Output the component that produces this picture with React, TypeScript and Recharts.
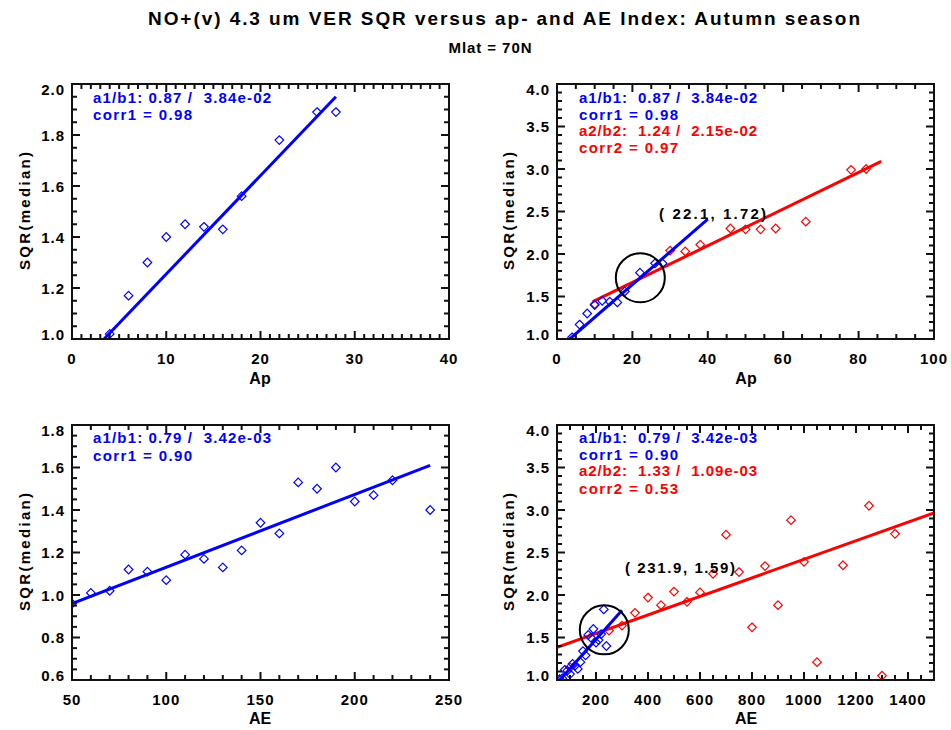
import React from 'react';
import { ScatterChart, Scatter, XAxis, YAxis, ReferenceDot } from 'recharts';

// SQR(median) vs Ap, low-activity fit (blue) and high-activity fit (red)
const apBlueX = [4, 6, 8, 10, 12, 14, 16, 18, 22, 26, 28];
const apBlueY = [1.02, 1.17, 1.3, 1.4, 1.45, 1.44, 1.43, 1.56, 1.78, 1.89, 1.89];
const apRedX = [10, 30, 34, 38, 46, 50, 54, 58, 66, 78, 82];
const apRedY = [1.41, 2.04, 2.03, 2.11, 2.3, 2.29, 2.29, 2.3, 2.38, 2.99, 3.0];

// fit line end points
const apFit1X = [3.4, 28];
const apFit1Y = [1.0, 1.95];
const apFit1LongX = [3.4, 40];
const apFit1LongY = [1.0, 2.41];
const apFit2X = [9.5, 86];
const apFit2Y = [1.44, 3.09];
const apCross = [22.1, 1.72];

// SQR(median) vs AE
const aeBlueX = [50, 60, 70, 80, 90, 100, 110, 120, 130, 140, 150, 160, 170, 180, 190, 200, 210, 220, 230, 240];
const aeBlueY = [0.96, 1.01, 1.02, 1.12, 1.11, 1.07, 1.19, 1.17, 1.13, 1.21, 1.34, 1.29, 1.53, 1.5, 1.6, 1.44, 1.47, 1.54, 1.83, 1.4];
const aeRedX = [100, 250, 300, 350, 400, 450, 500, 550, 600, 650, 700, 750, 800, 850, 900, 950, 1000, 1050, 1150, 1200, 1250, 1300, 1350];
const aeRedY = [1.15, 1.58, 1.64, 1.79, 1.97, 1.88, 2.04, 1.92, 2.03, 2.25, 2.71, 2.27, 1.62, 2.34, 1.88, 2.88, 2.39, 1.21, 2.35, 0.94, 3.05, 1.05, 2.72];

const aeFit1X = [50, 240];
const aeFit1Y = [0.96, 1.61];
const aeFit1LongX = [61, 300];
const aeFit1LongY = [1.0, 1.82];
const aeFit2X = [50, 1500];
const aeFit2Y = [1.385, 2.965];
const aeCross = [231.9, 1.59];

// axis major ticks
const apXMajors = [0, 10, 20, 30, 40];
const apYMajors = [1.0, 1.2, 1.4, 1.6, 1.8, 2.0];
const apWideXMajors = [0, 20, 40, 60, 80, 100];
const wideYMajors = [1.0, 1.5, 2.0, 2.5, 3.0, 3.5, 4.0];
const aeXMajors = [50, 100, 150, 200, 250];
const aeYMajors = [0.6, 0.8, 1.0, 1.2, 1.4, 1.6, 1.8];
const aeWideXMajors = [200, 400, 600, 800, 1000, 1200, 1400];

const BLUE = '#0000ff';
const RED = '#ff0000';
const FONT = '"Liberation Sans", Arial, Helvetica, sans-serif';
const BOX_W = 377;
const BOX_H = 255;
const CH = 320;

const pts = (xs: number[], ys: number[]) => xs.map((x, i) => ({ x, y: ys[i] }));

const makeTicks = (lo: number, hi: number, step: number) => {
  const out: number[] = [];
  const n = Math.round((hi - lo) / step);
  for (let i = 0; i <= n; i++) out.push(+(lo + i * step).toFixed(6));
  return out;
};

const isMajor = (v: number, majors: number[]) => majors.some((m) => Math.abs(m - v) < 1e-6);

const labelStyle = { fontFamily: FONT, fontWeight: 700, fontSize: 15, letterSpacing: 1 } as const;

const XLabel = ({ x, y, payload }: any) => (
  <text x={x} y={y + 19} textAnchor="middle" dominantBaseline="central" fill="#000" style={labelStyle}>
    {String(payload.value)}
  </text>
);

const YLabel = ({ x, y, payload, domain, digits }: any) => {
  const v = payload.value;
  let ly = y;
  if (Math.abs(v - domain[1]) < 1e-6) ly = y + 5;
  if (Math.abs(v - domain[0]) < 1e-6) ly = y - 5;
  return (
    <text x={x - 7} y={ly} textAnchor="end" dominantBaseline="central" fill="#000" style={labelStyle}>
      {v.toFixed(digits)}
    </text>
  );
};

const Diamond = ({ cx, cy, color }: any) => {
  if (cx == null || cy == null) return <g />;
  const r = 4.3;
  return (
    <path
      d={`M${cx},${cy - r}L${cx + r},${cy}L${cx},${cy + r}L${cx - r},${cy}Z`}
      fill="none"
      stroke={color}
      strokeWidth={1.2}
    />
  );
};

type SeriesDef = { data: { x: number; y: number }[]; color: string; fit?: boolean };

type PanelDef = {
  left: number;
  top: number;
  width: number;
  boxLeft: number;
  boxTop: number;
  xDomain: [number, number];
  yDomain: [number, number];
  xMajors: number[];
  yMajors: number[];
  xStep: number;
  yStep: number;
  series: SeriesDef[];
  cross?: number[];
};

function Panel(p: PanelDef) {
  const yAxisW = p.boxLeft - p.left;
  const marginTop = p.boxTop - p.top;
  const marginRight = p.width - yAxisW - BOX_W;
  const xAxisH = CH - marginTop - BOX_H;
  return (
    <div style={{ position: 'absolute', left: p.left, top: p.top }}>
      <ScatterChart width={p.width} height={CH} margin={{ top: marginTop, right: marginRight, bottom: 0, left: 0 }}>
        <XAxis
          type="number"
          dataKey="x"
          domain={p.xDomain}
          ticks={p.xMajors}
          interval={0}
          allowDataOverflow
          height={xAxisH}
          tickSize={0}
          tickMargin={0}
          axisLine={false}
          tickLine={false}
          tick={(t: any) => <XLabel {...t} />}
        />
        <YAxis
          type="number"
          dataKey="y"
          domain={p.yDomain}
          ticks={p.yMajors}
          interval={0}
          allowDataOverflow
          width={yAxisW}
          tickSize={0}
          tickMargin={0}
          axisLine={false}
          tickLine={false}
          tick={(t: any) => <YLabel {...t} domain={p.yDomain} digits={1} />}
        />
        {p.series.map((s, i) =>
          s.fit ? (
            <Scatter
              key={i}
              data={s.data}
              line={{ stroke: s.color, strokeWidth: 3 }}
              shape={() => <g />}
              isAnimationActive={false}
            />
          ) : (
            <Scatter
              key={i}
              data={s.data}
              shape={(sp: any) => <Diamond cx={sp.cx} cy={sp.cy} color={s.color} />}
              isAnimationActive={false}
            />
          )
        )}
        {p.cross && (
          <ReferenceDot x={p.cross[0]} y={p.cross[1]} r={24.5} fill="none" stroke="#000" strokeWidth={2} />
        )}
      </ScatterChart>
    </div>
  );
}

// plot frame with inward ticks on all four sides, matching the axis domains
function Frame({ p }: { p: PanelDef }) {
  const [x0, x1] = p.xDomain;
  const [y0, y1] = p.yDomain;
  const bx = p.boxLeft;
  const by = p.boxTop;
  const marks: React.ReactNode[] = [];
  makeTicks(x0, x1, p.xStep).forEach((v, i) => {
    const len = isMajor(v, p.xMajors) ? 8 : 5;
    const px = bx + ((v - x0) / (x1 - x0)) * BOX_W;
    marks.push(<rect key={`xb${i}`} x={px - 1} y={by + BOX_H - len} width={2} height={len} />);
    marks.push(<rect key={`xt${i}`} x={px - 1} y={by} width={2} height={len} />);
  });
  makeTicks(y0, y1, p.yStep).forEach((v, i) => {
    const len = isMajor(v, p.yMajors) ? 8 : 5;
    const py = by + BOX_H - ((v - y0) / (y1 - y0)) * BOX_H;
    marks.push(<rect key={`yl${i}`} x={bx} y={py - 1} width={len} height={2} />);
    marks.push(<rect key={`yr${i}`} x={bx + BOX_W - len} y={py - 1} width={len} height={2} />);
  });
  return (
    <g>
      <g fill="#111">{marks}</g>
      <rect x={bx} y={by} width={BOX_W} height={BOX_H} fill="none" stroke="#111" strokeWidth={2} />
    </g>
  );
}

const Txt = ({ x, y, len, color = '#000', size = 15, anchor = 'start', rotate = false, children }: any) => (
  <text
    x={x}
    y={y}
    fill={color}
    textAnchor={anchor}
    dominantBaseline="central"
    textLength={len}
    lengthAdjust="spacing"
    xmlSpace="preserve"
    transform={rotate ? `rotate(-90 ${x} ${y})` : undefined}
    style={{ fontFamily: FONT, fontWeight: 700, fontSize: size, whiteSpace: 'pre' }}
  >
    {children}
  </text>
);

const panels: PanelDef[] = [
  {
    left: 0,
    top: 70,
    width: 470,
    boxLeft: 72,
    boxTop: 84,
    xDomain: [0, 40],
    yDomain: [1, 2],
    xMajors: apXMajors,
    yMajors: apYMajors,
    xStep: 1,
    yStep: 0.05,
    series: [
      { data: pts(apFit1X, apFit1Y), color: BLUE, fit: true },
      { data: pts(apBlueX, apBlueY), color: BLUE },
    ],
  },
  {
    left: 480,
    top: 70,
    width: 471,
    boxLeft: 557,
    boxTop: 84,
    xDomain: [0, 100],
    yDomain: [1, 4],
    xMajors: apWideXMajors,
    yMajors: wideYMajors,
    xStep: 5,
    yStep: 0.1,
    series: [
      { data: pts(apFit2X, apFit2Y), color: RED, fit: true },
      { data: pts(apRedX, apRedY), color: RED },
      { data: pts(apFit1LongX, apFit1LongY), color: BLUE, fit: true },
      { data: pts(apBlueX, apBlueY), color: BLUE },
    ],
    cross: apCross,
  },
  {
    left: 0,
    top: 410,
    width: 470,
    boxLeft: 72,
    boxTop: 425,
    xDomain: [50, 250],
    yDomain: [0.6, 1.8],
    xMajors: aeXMajors,
    yMajors: aeYMajors,
    xStep: 10,
    yStep: 0.05,
    series: [
      { data: pts(aeFit1X, aeFit1Y), color: BLUE, fit: true },
      { data: pts(aeBlueX, aeBlueY), color: BLUE },
    ],
  },
  {
    left: 480,
    top: 410,
    width: 471,
    boxLeft: 557,
    boxTop: 425,
    xDomain: [50, 1500],
    yDomain: [1, 4],
    xMajors: aeWideXMajors,
    yMajors: wideYMajors,
    xStep: 50,
    yStep: 0.1,
    series: [
      { data: pts(aeFit2X, aeFit2Y), color: RED, fit: true },
      { data: pts(aeRedX, aeRedY), color: RED },
      { data: pts(aeFit1LongX, aeFit1LongY), color: BLUE, fit: true },
      { data: pts(aeBlueX, aeBlueY), color: BLUE },
    ],
    cross: aeCross,
  },
];

export default function App() {
  return (
    <div style={{ position: 'absolute', left: 0, top: 0, width: 951, height: 730, background: '#fff', overflow: 'hidden' }}>
      {panels.map((p, i) => (
        <Panel key={i} {...p} />
      ))}

      <svg width={951} height={730} style={{ position: 'absolute', left: 0, top: 0, pointerEvents: 'none' }}>
        {panels.map((p, i) => (
          <Frame key={i} p={p} />
        ))}

        <Txt x={504} y={18} len={712} size={19} anchor="middle">
          NO+(v) 4.3 um VER SQR versus ap- and AE Index: Autumn season
        </Txt>
        <Txt x={490} y={47} len={83} size={15} anchor="middle">
          Mlat = 70N
        </Txt>

        {/* top-left */}
        <Txt x={93} y={97} len={178} color={BLUE}>a1/b1: 0.87 /  3.84e-02</Txt>
        <Txt x={93} y={114.5} len={99} color={BLUE}>corr1 = 0.98</Txt>
        <Txt x={260} y={378} size={16} anchor="middle">Ap</Txt>
        <Txt x={24} y={211} len={118} anchor="middle" rotate>SQR(median)</Txt>

        {/* top-right */}
        <Txt x={579} y={97} len={178} color={BLUE}>a1/b1:  0.87 /  3.84e-02</Txt>
        <Txt x={579} y={114.5} len={99} color={BLUE}>corr1 = 0.98</Txt>
        <Txt x={579} y={130} len={178} color={RED}>a2/b2:  1.24 /  2.15e-02</Txt>
        <Txt x={579} y={147} len={99} color={RED}>corr2 = 0.97</Txt>
        <Txt x={659} y={213} len={107}>( 22.1, 1.72)</Txt>
        <Txt x={746} y={378} size={16} anchor="middle">Ap</Txt>
        <Txt x={508} y={211} len={118} anchor="middle" rotate>SQR(median)</Txt>

        {/* bottom-left */}
        <Txt x={93} y={437.5} len={178} color={BLUE}>a1/b1: 0.79 /  3.42e-03</Txt>
        <Txt x={93} y={455} len={99} color={BLUE}>corr1 = 0.90</Txt>
        <Txt x={260} y={718} size={16} anchor="middle">AE</Txt>
        <Txt x={24} y={552} len={118} anchor="middle" rotate>SQR(median)</Txt>

        {/* bottom-right */}
        <Txt x={579} y={437.5} len={178} color={BLUE}>a1/b1:  0.79 /  3.42e-03</Txt>
        <Txt x={579} y={454.5} len={99} color={BLUE}>corr1 = 0.90</Txt>
        <Txt x={579} y={470.5} len={178} color={RED}>a2/b2:  1.33 /  1.09e-03</Txt>
        <Txt x={579} y={488} len={99} color={RED}>corr2 = 0.53</Txt>
        <Txt x={625} y={567} len={110}>( 231.9, 1.59)</Txt>
        <Txt x={746} y={718} size={16} anchor="middle">AE</Txt>
        <Txt x={508} y={552} len={118} anchor="middle" rotate>SQR(median)</Txt>
      </svg>
    </div>
  );
}
